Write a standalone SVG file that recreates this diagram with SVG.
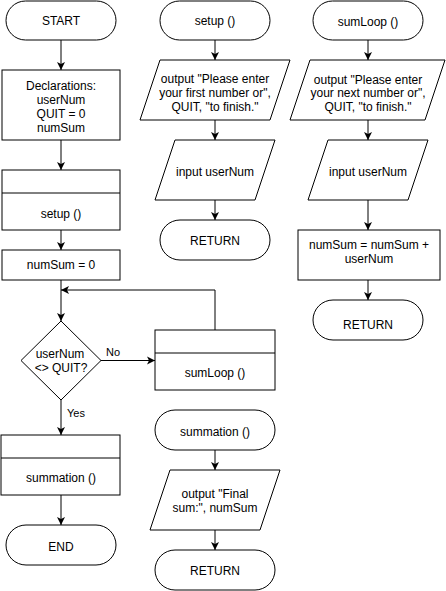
<svg xmlns="http://www.w3.org/2000/svg" width="446" height="591" viewBox="0 0 446 591">
<style>
.s{fill:#fff;stroke:#000;stroke-width:1}
.t{font-family:"Liberation Sans",Arial,sans-serif;font-size:12px;fill:#000;text-anchor:middle}
.l{font-family:"Liberation Sans",Arial,sans-serif;font-size:11px;fill:#000}
.c{fill:none;stroke:#000;stroke-width:1}
</style>
<defs>
<marker id="a" markerUnits="userSpaceOnUse" markerWidth="10" markerHeight="10" viewBox="0 0 10 10" refX="9" refY="5" orient="auto">
<path d="M1,1 L9,5 L1,9 L3,5 Z" fill="#000"/>
</marker>
</defs>
<rect width="446" height="591" fill="#fff"/>
<g id="connectors">
<path class="c" marker-end="url(#a)" d="M61,40 V70"/>
<path class="c" marker-end="url(#a)" d="M61,140 V170"/>
<path class="c" marker-end="url(#a)" d="M61,230 V250"/>
<path class="c" marker-end="url(#a)" d="M61,280 V321"/>
<path class="c" marker-end="url(#a)" d="M101,360.5 H155"/>
<path class="c" marker-end="url(#a)" d="M215,330 V290 H61"/>
<path class="c" marker-end="url(#a)" d="M61,400 V435"/>
<path class="c" marker-end="url(#a)" d="M61,495 V525"/>
<path class="c" marker-end="url(#a)" d="M215,40 V60"/>
<path class="c" marker-end="url(#a)" d="M215,120 V140"/>
<path class="c" marker-end="url(#a)" d="M215,200 V220"/>
<path class="c" marker-end="url(#a)" d="M215,450 V470"/>
<path class="c" marker-end="url(#a)" d="M215,530 V550"/>
<path class="c" marker-end="url(#a)" d="M368,40 V60"/>
<path class="c" marker-end="url(#a)" d="M368,120 V140"/>
<path class="c" marker-end="url(#a)" d="M368,200 V230"/>
<path class="c" marker-end="url(#a)" d="M368,280 V300"/>
<text class="l" x="106" y="356">No</text>
<text class="l" x="67" y="417">Yes</text>
</g>
<g id="start"><rect class="s" x="6" y="1" width="110" height="39" rx="19.5"/><text class="t" x="61" y="25">START</text></g>
<g id="declarations"><rect class="s" x="2" y="70" width="118" height="70"/>
<text class="t" x="61" y="90">Declarations:</text><text class="t" x="61" y="104">userNum</text><text class="t" x="61" y="118">QUIT = 0</text><text class="t" x="61" y="132">numSum</text></g>
<g id="call-setup"><rect class="s" x="2" y="170" width="118" height="60"/><path class="c" d="M2,193 H120"/><text class="t" x="61" y="218">setup ()</text></g>
<g id="init-sum"><rect class="s" x="2" y="250" width="118" height="30"/><text class="t" x="61" y="269">numSum = 0</text></g>
<g id="decision"><path class="s" d="M61,321 L101,360.5 L61,400 L21,360.5 Z"/><text class="t" x="60" y="358">userNum</text><text class="t" x="61" y="372">&lt;&gt; QUIT?</text></g>
<g id="call-sumloop"><rect class="s" x="155" y="330" width="120" height="60"/><path class="c" d="M155,353 H275"/><text class="t" x="215" y="377">sumLoop ()</text></g>
<g id="call-summation"><rect class="s" x="1" y="435" width="119" height="60"/><path class="c" d="M1,458 H120"/><text class="t" x="61" y="482">summation ()</text></g>
<g id="end"><rect class="s" x="6" y="525" width="110" height="40" rx="20"/><text class="t" x="61" y="551">END</text></g>
<g id="setup-start"><rect class="s" x="160" y="1" width="110" height="39" rx="19.5"/><text class="t" x="215" y="25">setup ()</text></g>
<g id="setup-output"><path class="s" d="M160,60 H290 L270,120 H140 Z"/>
<text class="t" x="215" y="83">output "Please enter</text><text class="t" x="215" y="97">your first number or",</text><text class="t" x="215" y="111">QUIT, "to finish."</text></g>
<g id="setup-input"><path class="s" d="M175,140 H275 L255,200 H155 Z"/><text class="t" x="215" y="176">input userNum</text></g>
<g id="setup-return"><rect class="s" x="160" y="220" width="110" height="40" rx="20"/><text class="t" x="215" y="245">RETURN</text></g>
<g id="sumloop-start"><rect class="s" x="313" y="1" width="110" height="39" rx="19.5"/><text class="t" x="368" y="26">sumLoop ()</text></g>
<g id="sumloop-output"><path class="s" d="M310,60 H445 L425,120 H290 Z"/>
<text class="t" x="368" y="84">output "Please enter</text><text class="t" x="368" y="97">your next number or",</text><text class="t" x="368" y="111">QUIT, "to finish."</text></g>
<g id="sumloop-input"><path class="s" d="M328,140 H428 L408,200 H308 Z"/><text class="t" x="368" y="176">input userNum</text></g>
<g id="sumloop-add"><rect class="s" x="298" y="230" width="142" height="50"/><text class="t" x="369" y="249">numSum = numSum +</text><text class="t" x="369" y="263">userNum</text></g>
<g id="sumloop-return"><rect class="s" x="313" y="300" width="110" height="40" rx="20"/><text class="t" x="368" y="329">RETURN</text></g>
<g id="summation-start"><rect class="s" x="155" y="410" width="120" height="40" rx="20"/><text class="t" x="215" y="436">summation ()</text></g>
<g id="summation-output"><path class="s" d="M170,470 H280 L260,530 H150 Z"/><text class="t" x="215" y="498">output "Final</text><text class="t" x="215" y="512">sum:", numSum</text></g>
<g id="summation-return"><rect class="s" x="155" y="550" width="120" height="40" rx="20"/><text class="t" x="215" y="575">RETURN</text></g>
</svg>
